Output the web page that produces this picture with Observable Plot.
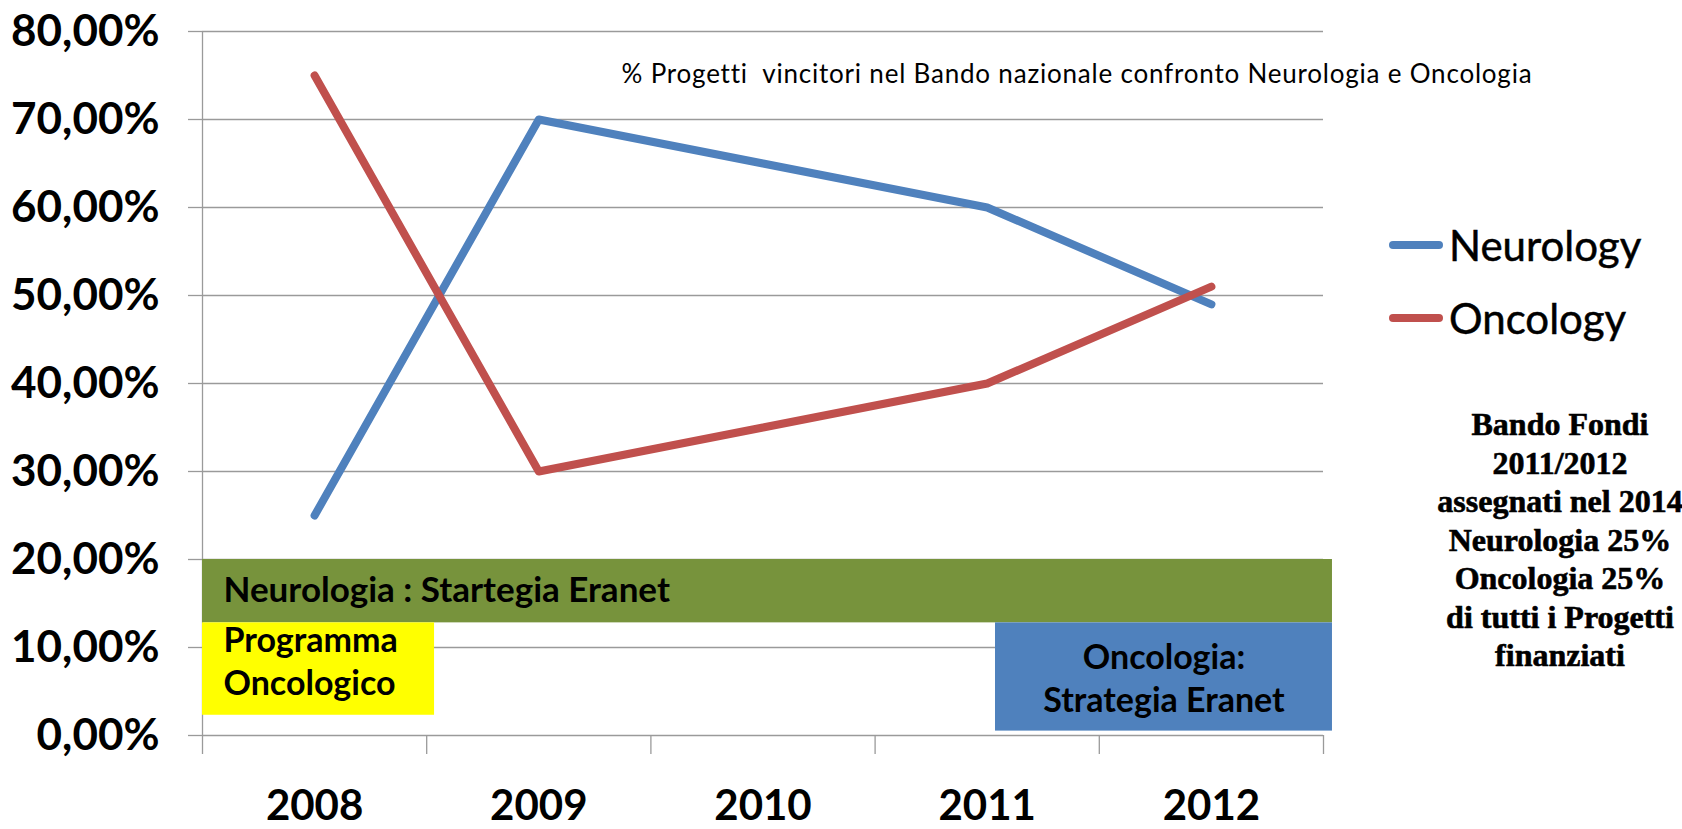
<!DOCTYPE html>
<html>
<head>
<meta charset="utf-8">
<script src="https://cdn.jsdelivr.net/npm/d3@7"></script>
<script src="https://cdn.jsdelivr.net/npm/@observablehq/plot@0.6"></script>
<style>
  html, body { margin: 0; padding: 0; background: #fff; }
  #wrap { position: relative; width: 1682px; height: 829px; overflow: hidden; font-family: Lato, "Open Sans", sans-serif; }
  #wrap svg { position: absolute; left: 0; top: 0; }
  .ov { position: absolute; white-space: pre; color: #000; }
  #title { left: 1077px; top: 73px; transform: translate(-50%, -50%); font-size: 26px; letter-spacing: 0.8px; }
  .leg { position: absolute; left: 1389px; display: flex; align-items: center; transform: translateY(-50%); font-size: 42px; -webkit-text-stroke: 0.5px #000; }
  .sw { width: 54px; height: 8px; border-radius: 4px; margin-right: 6px; }
  #note { left: 1560px; top: 405px; transform: translateX(-50%); text-align: center; font-family: "Liberation Serif", serif; font-weight: bold; font-size: 32px; line-height: 38.5px; -webkit-text-stroke: 0.6px #000; white-space: nowrap; }
</style>
</head>
<body>
<div id="wrap"></div>
<script>
// ---- data ----
const years = [2008, 2009, 2010, 2011, 2012];
const neurology = [0.25, 0.70, 0.65, 0.60, 0.49];
const oncology = [0.75, 0.30, 0.35, 0.40, 0.51];
const seriesNames = ["Neurology", "Oncology"];
const yTickValues = [0, 0.1, 0.2, 0.3, 0.4, 0.5, 0.6, 0.7, 0.8];
const categoryBounds = [2007.5, 2008.5, 2009.5, 2010.5, 2011.5, 2012.5];
const titleText = "% Progetti  vincitori nel Bando nazionale confronto Neurologia e Oncologia";
const boxLabels = ["Neurologia : Startegia Eranet", "Programma\nOncologico", "Oncologia:\nStrategia Eranet"];
const boxX1 = [2007.5, 2007.5, 2011.037];
const boxX2 = [2012.54, 2008.535, 2012.54];
const boxY1 = [0.128, 0.023, 0.005];
const boxY2 = [0.20, 0.128, 0.128];
const noteLines = ["Bando Fondi", "2011/2012", "assegnati nel 2014", "Neurologia 25%", "Oncologia 25%", "di tutti i Progetti", "finanziati"];

// ---- styles ----
const colors = { Neurology: "#4F81BD", Oncology: "#C0504D" };
const boxFills = ["#77933C", "#FFFF00", "#4F81BD"];
const gridColor = "#9a9a9a";

const rows = [];
years.forEach((yr, i) => {
  rows.push({ year: yr, value: neurology[i], series: "Neurology" });
});
years.forEach((yr, i) => {
  rows.push({ year: yr, value: oncology[i], series: "Oncology" });
});
const boxes = boxLabels.map((label, i) => ({ label, x1: boxX1[i], x2: boxX2[i], y1: boxY1[i], y2: boxY2[i], fill: boxFills[i] }));

const fmt = d => (d * 100).toFixed(2).replace(".", ",") + "%";

const chart = Plot.plot({
  width: 1682,
  height: 829,
  marginLeft: 202,
  marginRight: 359,
  marginTop: 31,
  marginBottom: 94,
  x: { type: "linear", domain: [2007.5, 2012.5] },
  y: { domain: [0, 0.8] },
  style: { fontFamily: "Lato, sans-serif", background: "white", color: "black" },
  marks: [
    Plot.gridY(yTickValues, { stroke: gridColor, strokeOpacity: 1, strokeWidth: 1.3 }),
    Plot.ruleX([categoryBounds[0]], { y1: 0, y2: 0.8, stroke: gridColor, strokeWidth: 1.3 }),
    Plot.axisY(yTickValues, { tickSize: 14, tickPadding: 29, tickFormat: fmt, fontSize: 44, fontWeight: "bold", stroke: gridColor, strokeWidth: 1.3, label: null }),
    Plot.axisX(categoryBounds, { tickSize: 19, tickFormat: () => "", stroke: gridColor, strokeWidth: 1.3, label: null }),
    Plot.axisX(years, { tickSize: 0, tickPadding: 55, tickFormat: d => String(d), fontSize: 42, fontWeight: "bold", label: null }),
    Plot.rect(boxes, { x1: "x1", x2: "x2", y1: "y1", y2: "y2", fill: d => d.fill }),
    Plot.text([boxes[0]], { x: "x1", y: d => (d.y1 + d.y2) / 2, text: "label", textAnchor: "start", dx: 21, fontSize: 35, fontWeight: "bold", fill: "black" }),
    Plot.text([boxes[1]], { x: "x1", y: "y2", text: "label", textAnchor: "start", lineAnchor: "top", dx: 21, dy: -1, lineHeight: 1.25, fontSize: 34, fontWeight: "bold", fill: "black" }),
    Plot.text([boxes[2]], { x: d => (d.x1 + d.x2) / 2, y: d => (d.y1 + d.y2) / 2, text: "label", lineHeight: 1.24, fontSize: 34, fontWeight: "bold", fill: "black" }),
    Plot.line(rows.filter(d => d.series === "Neurology"), { x: "year", y: "value", stroke: colors.Neurology, strokeWidth: 8, strokeLinecap: "round", strokeLinejoin: "round" }),
    Plot.line(rows.filter(d => d.series === "Oncology"), { x: "year", y: "value", stroke: colors.Oncology, strokeWidth: 8, strokeLinecap: "round", strokeLinejoin: "round" })
  ]
});

const wrap = document.getElementById("wrap");
wrap.appendChild(chart);

const title = document.createElement("div");
title.className = "ov";
title.id = "title";
title.textContent = titleText;
wrap.appendChild(title);

const legendY = [245, 318];
seriesNames.forEach((name, i) => {
  const row = document.createElement("div");
  row.className = "leg";
  row.style.top = legendY[i] + "px";
  const sw = document.createElement("div");
  sw.className = "sw";
  sw.style.background = colors[name];
  const t = document.createElement("span");
  t.textContent = name;
  row.appendChild(sw);
  row.appendChild(t);
  wrap.appendChild(row);
});

const note = document.createElement("div");
note.className = "ov";
note.id = "note";
note.innerHTML = noteLines.join("<br>");
wrap.appendChild(note);
</script>
</body>
</html>
